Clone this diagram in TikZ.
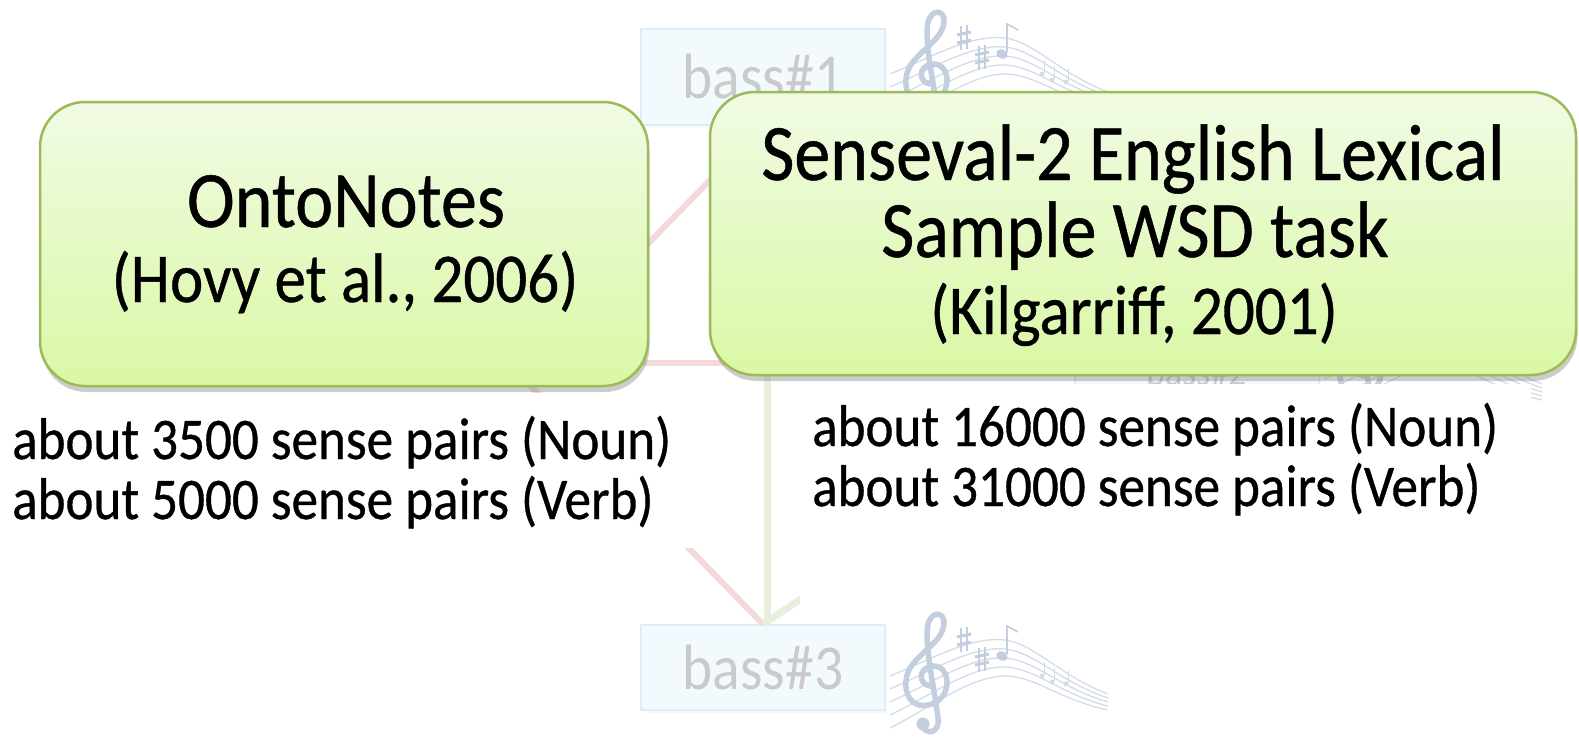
\documentclass[tikz,border=0pt]{standalone}
\usepackage{fontspec}
\setmainfont{Carlito}[FakeStretch=0.9, FakeBold=0.6]
\newfontfamily\bassfont{Carlito}[FakeStretch=0.9]
\usetikzlibrary{shadows}

\definecolor{boxtop}{HTML}{F1FBE4}
\definecolor{boxbot}{HTML}{DAF8A5}
\definecolor{boxedge}{HTML}{9BBB59}
\definecolor{fadered}{HTML}{F3DADA}
\definecolor{fadegreen}{HTML}{E8EFDD}
\definecolor{bassfill}{HTML}{F3FAFE}
\definecolor{bassedge}{HTML}{DCEEF8}
\definecolor{basstext}{HTML}{CACACA}
\definecolor{notecol}{HTML}{D3DCE8}
\definecolor{clefcol}{HTML}{C3CFDF}

\tikzset{
  topicbox/.style={draw=boxedge, line width=2.5pt, rounded corners=45pt,
    top color=boxtop, bottom color=boxbot, inner sep=0pt,
    drop shadow={shadow xshift=1.5pt, shadow yshift=-6pt, opacity=0.4}},
  title/.style={font=\fontsize{80}{86}\selectfont, inner sep=0pt},
  subtitle/.style={font=\fontsize{70}{76}\selectfont, inner sep=0pt},
  bodytext/.style={font=\fontsize{59}{64}\selectfont, inner sep=0pt},
  sensebox/.style={draw=bassedge, line width=1.5pt, fill=bassfill, inner sep=0pt,
    minimum width=244pt, text=basstext, font=\bassfont\fontsize{64}{70}\selectfont,
    drop shadow={shadow xshift=2pt, shadow yshift=-3pt, opacity=0.06}},
  redlink/.style={draw=fadered, line width=6pt},
  greenlink/.style={draw=fadegreen, line width=7pt},
  pad/.style={fill=white, inner sep=0pt},
  notes/.pic={
    % curved staff
    \foreach \i in {0,...,4}
      \draw[notecol, line width=1.3pt]
        (0,66+13*\i) .. controls (40,50+12*\i) and (80,26+10*\i) .. (115,30+9*\i)
        .. controls (145,34+8*\i) and (170,66+6*\i) .. (218,84+4*\i);
    % treble clef
    \draw[clefcol, line width=5.5pt, line cap=round]
      (40,76) .. controls (28,74) and (28,58) .. (42,56)
      .. controls (60,54) and (64,86) .. (42,94)
      .. controls (18,102) and (10,76) .. (20,58)
      .. controls (32,40) and (52,32) .. (54,14)
      .. controls (55,2) and (42,0) .. (38,14)
      .. controls (34,34) and (44,76) .. (48,108)
      .. controls (50,120) and (40,126) .. (33,118);
    \fill[clefcol] (33,114) circle (6.5);
    % sharps
    \foreach \cx/\cy in {74/30, 92/50}{
      \draw[clefcol, line width=1.6pt]
        (\cx-3,\cy-12) -- (\cx-3,\cy+12) (\cx+3,\cy-13) -- (\cx+3,\cy+11);
      \draw[clefcol, line width=3pt]
        (\cx-7,\cy-3) -- (\cx+7,\cy-6) (\cx-7,\cy+5) -- (\cx+7,\cy+2);
    }
    % notes
    \fill[clefcol, rotate around={-25:(112,46)}] (112,46) ellipse (6 and 4.5);
    \draw[clefcol, line width=1.6pt] (117,44) -- (117,16) -- (128,22);
    \fill[notecol] (152,66) circle (2.5) (162,72) circle (2.5) (176,74) circle (2.5);
    \draw[notecol, line width=1pt] (154,65) -- (154,52) (164,71) -- (164,58) (178,73) -- (178,60);
  }
}

\begin{document}
\begin{tikzpicture}[x=1pt, y=-1pt]
\useasboundingbox (0,0) rectangle (1579,736);

% faded word-sense layer
\node[sensebox, minimum height=96pt] (bass1) at (763,77) {bass\#1};
\node[sensebox, minimum height=86pt, font=\bassfont\fontsize{40}{44}\selectfont] (bass2) at (1197,372) {bass\#2};
\node[sensebox, minimum height=85pt] (bass3) at (763,667.5) {bass\#3};
\pic at (890,8) {notes};
\pic at (1324,300) {notes};
\pic at (890,610) {notes};

\coordinate (hubA) at (520,375);
\coordinate (hubB) at (520,363);
\coordinate (gtop) at (767,250);
\coordinate (gend) at (1100,400);
\draw[redlink] (hubA) -- (bass1.south);
\draw[redlink] (hubB) -- (hubB -| bass2.west);
\draw[redlink] (hubA) -- (bass3.north);
\draw[greenlink] (gtop) -- (gtop |- bass3.north);
\draw[greenlink] (bass3.north) -- (gend);

% white panels behind the counts
\node[pad, anchor=north west, minimum width=730pt, minimum height=155pt] (leftpad) at (0,393) {};
\node[pad, anchor=north west, minimum width=731pt, minimum height=222pt] (rightpad) at (800,384) {};

% corpus boxes
\node[topicbox, minimum width=608pt, minimum height=284pt] (ontobox) at (344,244) {};
\node[topicbox, minimum width=866pt, minimum height=283pt] (sensbox) at (1143,233.5) {};

\node[title, anchor=base] (onto) at (346,227) {OntoNotes};
\node[subtitle, anchor=base] (hovy) at (345,302) {(Hovy et al., 2006)};
\node[title, anchor=base] (sens1) at (1133,180) {Senseval-2 English Lexical};
\node[title, anchor=base] (sens2) at (1135,257) {Sample WSD task};
\node[subtitle, anchor=base] (kilg) at (1134,334) {(Kilgarriff, 2001)};

% corpus sizes
\node[bodytext, anchor=base west] (ln1) at (12,459) {about 3500 sense pairs (Noun)};
\node[bodytext, anchor=base west] (ln2) at (12,519) {about 5000 sense pairs (Verb)};
\node[bodytext, anchor=base west] (rn1) at (812,446) {about 16000 sense pairs (Noun)};
\node[bodytext, anchor=base west] (rn2) at (812,506) {about 31000 sense pairs (Verb)};
\end{tikzpicture}
\end{document}
